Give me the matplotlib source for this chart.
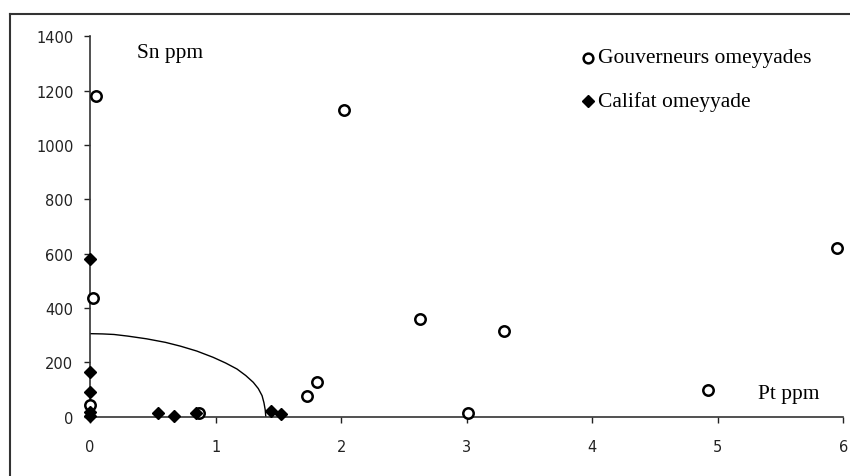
import matplotlib.pyplot as plt
from matplotlib.lines import Line2D

# Gouverneurs omeyyades (open circles)
gouv_pt = [0.05, 0.02, 0.0, 0.87, 1.73, 1.81, 2.02, 2.63, 3.01, 3.30, 4.92, 5.95]
gouv_sn = [1180, 437, 42, 15, 78, 127, 1128, 360, 15, 316, 100, 621]

# Califat omeyyade (filled diamonds)
cal_pt = [0.0, 0.0, 0.0, 0.0, 0.0, 0.54, 0.67, 0.84, 1.44, 1.52]
cal_sn = [581, 164, 91, 18, 4, 13, 2, 15, 20, 10]

# boundary curve, points
curve_pt = [0.0, 0.10, 0.19, 0.30, 0.45, 0.60, 0.72, 0.85, 0.98, 1.08,
            1.17, 1.24, 1.30, 1.34, 1.37, 1.385, 1.395, 1.40]
curve_sn = [306, 305, 303, 297, 287, 274, 260, 242, 219, 198,
            176, 152, 127, 104, 78, 52, 26, 0]

x_ticks = [0, 1, 2, 3, 4, 5, 6]
y_ticks = [0, 200, 400, 600, 800, 1000, 1200, 1400]

fig = plt.figure(figsize=(8.5, 4.77), dpi=100)
ax = fig.add_axes([0.106, 0.124, 0.886, 0.798])

ax.plot(curve_pt, curve_sn, color='black', lw=1.0, zorder=2)
ax.plot(gouv_pt, gouv_sn, 'o', ms=7.5, mfc='white', mec='black', mew=1.8,
        zorder=3, clip_on=False)
ax.plot(cal_pt, cal_sn, 'D', ms=6.5, color='black', zorder=4, clip_on=False)

ax.set_xlim(0, 6)
ax.set_ylim(0, 1400)
ax.set_xticks(x_ticks)
ax.set_yticks(y_ticks)
ax.tick_params(axis='both', labelsize=10.5, length=4, width=1, colors='#222222')
ax.tick_params(axis='x', pad=12)
ax.tick_params(axis='y', pad=8)
for s in ['top', 'right']:
    ax.spines[s].set_visible(False)
for s in ['left', 'bottom']:
    ax.spines[s].set_linewidth(1.2)
    ax.spines[s].set_color('#333333')

ax.text(0.37, 1340, 'Sn ppm', family='Liberation Serif', fontsize=15.5,
        va='center', ha='left')
ax.text(5.32, 85, 'Pt ppm', family='Liberation Serif', fontsize=15.5,
        va='center', ha='left')

# legend drawn as text with markers
ax.plot([3.97], [1320], 'o', ms=7, mfc='white', mec='black', mew=1.8, clip_on=False)
ax.text(4.05, 1320, 'Gouverneurs omeyyades', family='Liberation Serif',
        fontsize=15.5, va='center', ha='left')
ax.plot([3.97], [1162], 'D', ms=6, color='black', clip_on=False)
ax.text(4.05, 1162, 'Califat omeyyade', family='Liberation Serif',
        fontsize=15.5, va='center', ha='left')

# frame lines of the scanned figure
fig.add_artist(Line2D([10 / 850, 1.0], [1 - 15 / 477, 1 - 15 / 477],
                      color='#333333', lw=1.5))
fig.add_artist(Line2D([10 / 850, 10 / 850], [0, 1 - 15 / 477],
                      color='#333333', lw=1.5))

fig.savefig('out.png', dpi=100)
